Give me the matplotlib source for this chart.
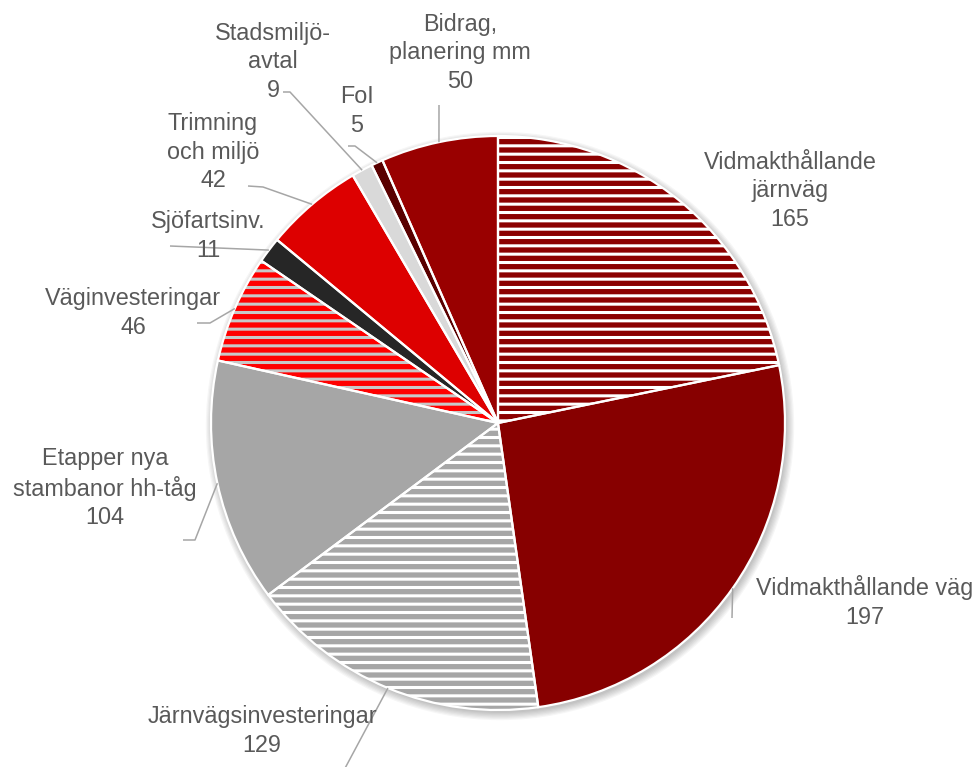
import numpy as np
import matplotlib
matplotlib.use('Agg')
import matplotlib.pyplot as plt
from matplotlib.patches import Circle

plt.rcParams['font.family'] = ['Liberation Sans', 'DejaVu Sans']
plt.rcParams['hatch.linewidth'] = 2.2

# data
etiketter = ['Vidmakthållande\njärnväg', 'Vidmakthållande väg', 'Järnvägsinvesteringar',
             'Etapper nya\nstambanor hh-tåg', 'Väginvesteringar', 'Sjöfartsinv.',
             'Trimning\noch miljö', 'Stadsmiljö-\navtal', 'FoI', 'Bidrag,\nplanering mm']
varden = [165, 197, 129, 104, 46, 11, 42, 9, 5, 50]
farger = ['#8B0000', '#870000', '#A6A6A6', '#A6A6A6', '#FF0000', '#262626',
          '#DD0000', '#D9D9D9', '#5A0000', '#990000']
hatch = ['--', None, '--', None, '--', None, None, None, None, None]
hatch_farg = ['white', None, 'white', None, '#C8C8C8', None, None, None, None, None]

# layout (pixel coords, y down)
W, H = 978, 767
cx, cy, R = 498, 423, 287
text_pos = [(790, 191), (865, 602), (262, 731), (105, 488), (133, 313),
            (208, 236), (213, 152), (273, 62), (357, 111), (460, 53)]
ledare = [[], [(732, 618)], [(343, 772)], [(195, 540), (183, 540)], [(210, 323), (197, 323)],
          [(170, 246)], [(263, 187), (248, 186)], [(290, 92), (283, 92)],
          [(355, 146), (348, 146)], [(439, 105)]]


def px(x, y):
    return x, H - y


fig = plt.figure(figsize=(W / 100, H / 100), dpi=100)
ax = fig.add_axes([0, 0, 1, 1])

# soft shadow
for i in range(7):
    ax.add_patch(Circle(px(cx + 2, cy + 3), R + i * 1.2, facecolor='black', alpha=0.035,
                        edgecolor='none', zorder=0))

wedges, _ = ax.pie(varden, colors=farger, startangle=90, counterclock=False,
                   center=px(cx, cy), radius=R, wedgeprops=dict(linewidth=0))
for w, h, hf in zip(wedges, hatch, hatch_farg):
    w.set_zorder(1)
    if h:
        w.set_edgecolor(hf)
        w.set_hatch(h)

ram, _ = ax.pie(varden, startangle=90, counterclock=False, center=px(cx, cy), radius=R,
                wedgeprops=dict(fill=False, edgecolor='white', linewidth=1.6))
for w in ram:
    w.set_zorder(2)

for i, w in enumerate(wedges):
    vinkel = np.deg2rad((w.theta1 + w.theta2) / 2)
    x0 = w.center[0] + w.r * np.cos(vinkel)
    y0 = w.center[1] + w.r * np.sin(vinkel)
    if ledare[i]:
        xs = [x0] + [p[0] for p in ledare[i]]
        ys = [y0] + [H - p[1] for p in ledare[i]]
        ax.plot(xs, ys, color='#A6A6A6', linewidth=1.1, zorder=3, solid_capstyle='butt')
    tx, ty = px(*text_pos[i])
    ax.text(tx, ty, f'{etiketter[i]}\n{varden[i]}', ha='center', va='center',
            fontsize=16.8, color='#595959', linespacing=1.3, zorder=4)

ax.set_xlim(0, W)
ax.set_ylim(0, H)
ax.set_aspect('equal')
ax.axis('off')

plt.savefig('out.png', dpi=100)
